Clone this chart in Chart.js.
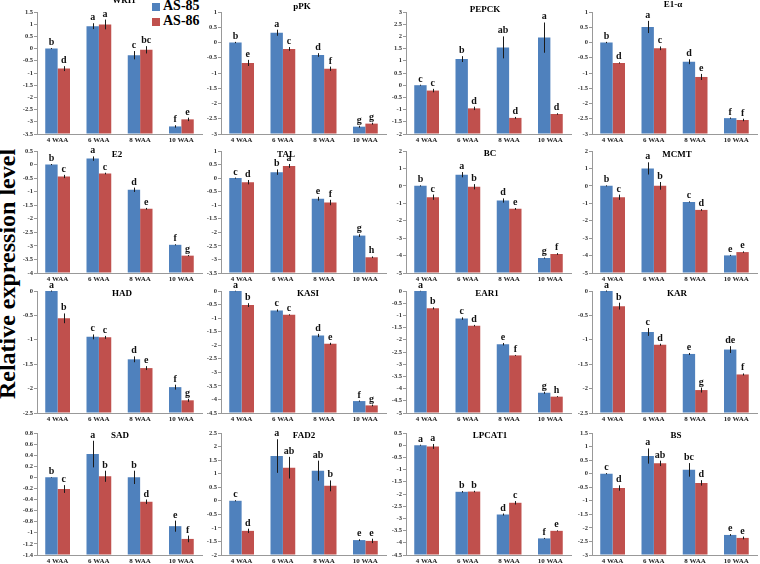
<!DOCTYPE html>
<html lang="en">
<head>
<meta charset="UTF-8">
<title>Relative expression level</title>
<script src="https://cdn.jsdelivr.net/npm/chart.js"></script>
<style>
  body { margin: 0; width: 760px; height: 564px; background: #fff; position: relative; overflow: hidden; font-family: "Liberation Serif", serif; }
  canvas.panel { position: absolute; }
  #yTitle { position: absolute; left: -144px; top: 262px; width: 300px; height: 24px; line-height: 24px; text-align: center;
            font: bold 24px "Liberation Serif", serif; color: #000; transform: rotate(-90deg); transform-origin: center; white-space: nowrap; }
  .sw { position: absolute; width: 8px; height: 8px; }
  .lt { position: absolute; font: bold 14px "Liberation Serif", serif; line-height: 14px; color: #000; white-space: nowrap; }
</style>
</head>
<body>
<div id="yTitle">Relative expression level</div>
<div class="sw" style="left:152px;top:3px;background:#4F81BD"></div>
<div class="lt" style="left:163px;top:-1px">AS-85</div>
<div class="sw" style="left:152px;top:18px;background:#C0504D"></div>
<div class="lt" style="left:163px;top:14px">AS-86</div>

<script>
const categories = ['4 WAA', '6 WAA', '8 WAA', '10 WAA'];
const genes = ['WRI1', 'pPK', 'PEPCK', 'E1-α', 'E2', 'TAL', 'BC', 'MCMT',
               'HAD', 'KASI', 'EAR1', 'KAR', 'SAD', 'FAD2', 'LPCAT1', 'BS'];

// axis ranges per gene
const yMin  = [-3.5, -3, -2, -3,  -4, -3.5, -5, -5,  -2.5, -4.5, -5, -2.5,  -1.4, -2, -4.5, -3];
const yMax  = [1.5, 1, 3, 1,  0.5, 1, 2, 2,  0, 0, 0, 0,  0.8, 2.5, 0.5, 1.5];
const yStep = [0.5, 0.5, 0.5, 0.5,  0.5, 0.5, 1, 1,  0.5, 0.5, 0.5, 0.5,  0.2, 0.5, 0.5, 0.5];

// AS-85 values per gene (4, 6, 8, 10 WAA)
const as85 = [
  [0, 0.92, -0.27, -3.19],
  [0, 0.32, -0.41, -2.76],
  [0, 1.07, 1.55, 1.95],
  [0, 0.51, -0.63, -2.48],
  [0, 0.22, -0.93, -2.96],
  [0, 0.22, -0.76, -2.12],
  [0, 0.64, -0.84, -4.14],
  [0, 1.0, -0.92, -3.99],
  [0, -0.94, -1.40, -1.97],
  [0, -0.72, -1.64, -4.06],
  [0, -1.13, -2.18, -4.17],
  [0, -0.84, -1.29, -1.2],
  [0, 0.42, 0, -0.88],
  [0, 1.65, 1.11, -1.45],
  [0, -1.91, -2.84, -3.82],
  [0, 0.65, 0.14, -2.26]
];
const as86 = [
  [-0.82, 0.99, -0.05, -2.9],
  [-0.67, -0.21, -0.86, -2.66],
  [-0.22, -0.95, -1.34, -1.18],
  [-0.67, -0.19, -1.13, -2.54],
  [-0.44, -0.33, -1.63, -3.36],
  [-0.15, 0.45, -0.9, -2.92],
  [-0.65, -0.05, -1.32, -3.91],
  [-0.65, 0, -1.38, -3.8],
  [-0.56, -0.95, -1.58, -2.24],
  [-0.52, -0.88, -1.95, -4.22],
  [-0.71, -1.42, -2.64, -4.33],
  [-0.31, -1.1, -2.03, -1.71],
  [-0.21, 0.02, -0.44, -1.11],
  [-1.11, 1.22, 0.55, -1.48],
  [-0.05, -1.9, -2.36, -3.51],
  [-0.53, 0.38, -0.34, -2.37]
];
const as85Err = [
  [0.02, 0.12, 0.17, 0.05],
  [0.02, 0.1, 0.06, 0.03],
  [0.02, 0.12, 0.45, 0.62],
  [0.02, 0.2, 0.08, 0.02],
  [0.02, 0.08, 0.08, 0.02],
  [0.02, 0.1, 0.07, 0.05],
  [0.03, 0.15, 0.12, 0.03],
  [0.03, 0.35, 0.03, 0.03],
  [0.01, 0.05, 0.06, 0.05],
  [0.01, 0.04, 0.06, 0.02],
  [0.01, 0.05, 0.05, 0.04],
  [0.01, 0.08, 0.02, 0.07],
  [0.005, 0.24, 0.12, 0.1],
  [0.02, 0.62, 0.37, 0.03],
  [0.02, 0.03, 0.04, 0.02],
  [0.02, 0.28, 0.25, 0.03]
];
const as86Err = [
  [0.1, 0.2, 0.15, 0.07],
  [0.1, 0.06, 0.07, 0.03],
  [0.07, 0.07, 0.04, 0.03],
  [0.02, 0.06, 0.1, 0.04],
  [0.06, 0.03, 0.03, 0.02],
  [0.08, 0.07, 0.1, 0.03],
  [0.15, 0.15, 0.05, 0.05],
  [0.15, 0.22, 0.05, 0.04],
  [0.1, 0.03, 0.04, 0.03],
  [0.07, 0.02, 0.04, 0.03],
  [0.04, 0.03, 0.02, 0.02],
  [0.07, 0.02, 0.05, 0.02],
  [0.07, 0.1, 0.04, 0.06],
  [0.08, 0.4, 0.2, 0.08],
  [0.1, 0.03, 0.07, 0.02],
  [0.1, 0.1, 0.1, 0.05]
];
const as85Letters = [
  ['b', 'a', 'c', 'f'], ['b', 'a', 'd', 'g'], ['c', 'b', 'ab', 'a'], ['b', 'a', 'd', 'f'],
  ['b', 'a', 'd', 'f'], ['c', 'b', 'e', 'g'], ['b', 'a', 'd', 'g'], ['b', 'a', 'c', 'e'],
  ['a', 'c', 'd', 'f'], ['a', 'c', 'd', 'f'], ['a', 'c', 'e', 'g'], ['a', 'c', 'e', 'de'],
  ['b', 'a', 'b', 'e'], ['c', 'a', 'ab', 'e'], ['a', 'b', 'd', 'f'], ['c', 'a', 'bc', 'e']
];
const as86Letters = [
  ['d', 'a', 'bc', 'e'], ['e', 'c', 'f', 'g'], ['c', 'd', 'd', 'd'], ['d', 'c', 'e', 'f'],
  ['c', 'c', 'e', 'g'], ['d', 'a', 'f', 'h'], ['c', 'b', 'e', 'f'], ['c', 'b', 'd', 'e'],
  ['b', 'c', 'e', 'g'], ['b', 'c', 'e', 'g'], ['b', 'd', 'f', 'h'], ['b', 'd', 'g', 'f'],
  ['c', 'b', 'd', 'f'], ['d', 'ab', 'b', 'e'], ['a', 'b', 'c', 'e'], ['d', 'ab', 'd', 'e']
];

// layout (pixels)
const PW = 165, PH = 122, YW = 30, PT = 18, XH = 14, PR = 3;
const colLeft = [37, 221, 406, 592];
const rowTop = [12, 151, 291, 433];
const titleDx = [87, 81, 79, 81,  80, 65, 84, 85,  85, 87, 81, 85,  83, 83, 84, 84];
const titleDy = [-11.5, -5.5, -2.5, -7,  4, 4, 3, 3.5,  3, 3, 3, 3,  3, 3, 3, 3];

const BLUE = '#4F81BD', RED = '#C0504D';
const SERIF = '"Liberation Serif", "Times New Roman", serif';

function fmt(v) {
  const r = Math.round(v * 10) / 10;
  return String(r === 0 ? 0 : r);
}

function decor(i) {
  return {
    id: 'decor' + i,
    afterDatasetsDraw(chart) {
      const ctx = chart.ctx, y = chart.scales.y, area = chart.chartArea;
      ctx.save();
      chart.data.datasets.forEach((ds, d) => {
        chart.getDatasetMeta(d).data.forEach((bar, j) => {
          const v = ds.data[j], e = ds.errors[j];
          const yTop = y.getPixelForValue(v + e), yBot = y.getPixelForValue(v - e);
          const x = Math.round(bar.x) + 0.5;
          ctx.strokeStyle = '#1a1a1a';
          ctx.lineWidth = 1;
          ctx.beginPath();
          ctx.moveTo(x, yTop);
          ctx.lineTo(x, yBot);
          ctx.stroke();
          ctx.fillStyle = '#111';
          ctx.font = 'bold 10px ' + SERIF;
          ctx.textAlign = 'center';
          ctx.textBaseline = 'alphabetic';
          ctx.fillText(ds.letters[j], bar.x, Math.min(yTop, bar.y) - 3);
        });
      });
      ctx.font = 'bold 9px ' + SERIF;
      ctx.textAlign = 'center';
      ctx.textBaseline = 'middle';
      ctx.fillStyle = '#000';
      ctx.fillText(genes[i], area.left + titleDx[i], area.top + titleDy[i]);
      ctx.restore();
    }
  };
}

genes.forEach((g, i) => {
  const r = Math.floor(i / 4), c = i % 4;
  const cv = document.createElement('canvas');
  cv.className = 'panel';
  const w = YW + PW + PR, h = PT + PH + XH;
  cv.width = w; cv.height = h;
  cv.style.width = w + 'px'; cv.style.height = h + 'px';
  cv.style.left = (colLeft[c] - YW) + 'px';
  cv.style.top = (rowTop[r] - PT) + 'px';
  document.body.appendChild(cv);

  new Chart(cv, {
    type: 'bar',
    data: {
      labels: categories,
      datasets: [
        { label: 'AS-85', data: as85[i], errors: as85Err[i], letters: as85Letters[i], backgroundColor: BLUE, base: yMin[i] },
        { label: 'AS-86', data: as86[i], errors: as86Err[i], letters: as86Letters[i], backgroundColor: RED, base: yMin[i] }
      ]
    },
    options: {
      responsive: false,
      animation: false,
      events: [],
      layout: { padding: { top: PT, right: PR, left: 0, bottom: 0 } },
      datasets: { bar: { categoryPercentage: 0.6, barPercentage: 1.0 } },
      plugins: { legend: { display: false }, tooltip: { enabled: false }, title: { display: false } },
      scales: {
        x: {
          grid: { display: false, drawTicks: false },
          border: { display: true, color: '#999', width: 1 },
          ticks: { font: { family: SERIF, size: 7, weight: 'bold' }, color: '#222', padding: 2, autoSkip: false, maxRotation: 0 },
          afterFit: s => { s.height = XH; }
        },
        y: {
          min: yMin[i], max: yMax[i],
          grid: { drawOnChartArea: false, drawTicks: true, tickLength: 3, color: '#999' },
          border: { display: true, color: '#999', width: 1 },
          ticks: { stepSize: yStep[i], font: { family: SERIF, size: 6.5, weight: 'bold' }, color: '#333', padding: 1, callback: v => fmt(v) },
          afterFit: s => { s.width = YW; }
        }
      }
    },
    plugins: [decor(i)]
  });
});
</script>
</body>
</html>
